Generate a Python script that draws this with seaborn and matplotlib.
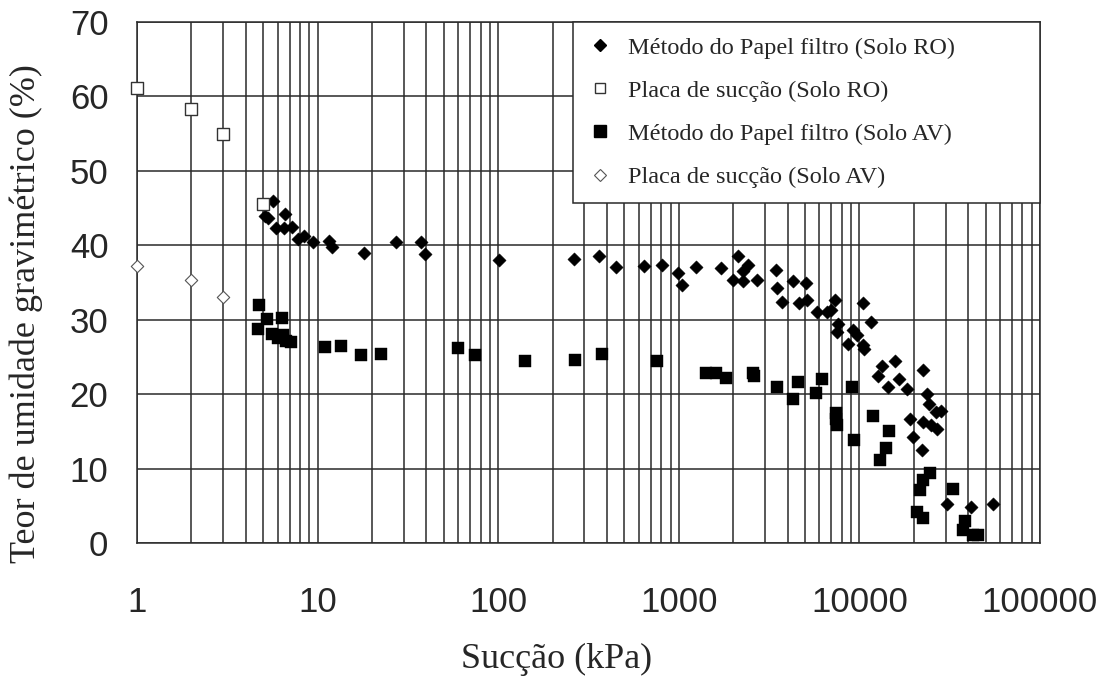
import matplotlib
matplotlib.use("Agg")
import numpy as np
import pandas as pd
import seaborn as sns
import matplotlib.pyplot as plt
from matplotlib.ticker import FixedLocator, LogLocator, NullFormatter
from matplotlib.lines import Line2D

# ---------------- data ----------------
ro_papel_x = [5.68, 5.11, 5.3, 6.60, 5.86, 6.51, 7.19, 7.76, 8.41, 9.47, 11.6, 11.97,
              18.1, 27.2, 37.2, 39.3, 101, 263, 361, 447, 638, 803, 993, 1045, 1245,
              1706, 2136, 2428, 2277, 2003, 2277, 2698, 3452, 3513, 4309, 5063, 3706,
              4633, 5105, 5848, 6640, 7325, 6990, 7640, 7485, 9250, 9660, 8670, 10500,
              10600, 10420, 11540, 13390, 15730, 12740, 14460, 16640, 18290, 22600,
              23600, 24400, 26500, 28300, 19060, 22400, 24800, 27000, 19720, 22100,
              30700, 41300, 54700]
ro_papel_y = [45.9, 44.0, 43.6, 44.2, 42.3, 42.3, 42.5, 40.9, 41.2, 40.5, 40.6, 39.8,
              38.9, 40.5, 40.5, 38.8, 38.0, 38.1, 38.6, 37.1, 37.2, 37.4, 36.3, 34.7, 37.1,
              36.9, 38.6, 37.4, 36.6, 35.4, 35.2, 35.4, 36.7, 34.2, 35.2, 34.9, 32.4,
              32.2, 32.6, 31.0, 31.0, 32.6, 31.3, 29.4, 28.3, 28.6, 27.9, 26.8, 26.6,
              26.1, 32.2, 29.7, 23.8, 24.5, 22.5, 21.0, 22.0, 20.7, 23.2,
              20.0, 18.7, 17.6, 17.8, 16.7, 16.3, 15.8, 15.3, 14.2, 12.5,
              5.2, 4.9, 5.3]

ro_placa_x = [1, 2, 3, 5]
ro_placa_y = [61.1, 58.3, 55.0, 45.5]

av_papel_x = [4.72, 5.22, 6.33, 4.70, 5.57, 6.06, 6.45, 6.68, 7.12, 11.0, 13.4, 17.4,
              22.4, 60.1, 74.3, 140.7, 266, 374, 760, 1415, 1608, 1825, 2563, 2600,
              3513, 4309, 4580, 5750, 6240, 7380, 7540, 7460, 9120, 9350, 11900, 14500,
              14100, 12950, 24600, 22400, 21700, 33100, 20750, 22600, 38400, 37650,
              45600, 42800]
av_papel_y = [32.0, 30.1, 30.2, 28.8, 28.1, 27.6, 28.0, 27.2, 27.0, 26.3, 26.5, 25.3,
              25.4, 26.2, 25.3, 24.5, 24.6, 25.4, 24.5, 22.9, 22.9, 22.2, 22.8, 22.4,
              21.0, 19.3, 21.6, 20.2, 22.1, 17.4, 15.8, 16.6, 21.0, 13.9, 17.1, 15.0,
              12.8, 11.2, 9.4, 8.5, 7.1, 7.3, 4.2, 3.3, 3.0, 1.7,
              1.1, 1.1]

av_placa_x = [1, 2, 3]
av_placa_y = [37.2, 35.4, 33.1]

series_labels = ["Método do Papel filtro (Solo RO)",
                 "Placa de sucção (Solo RO)",
                 "Método do Papel filtro (Solo AV)",
                 "Placa de sucção (Solo AV)"]

x_ticks = [1, 10, 100, 1000, 10000, 100000]
x_tick_labels = ["1", "10", "100", "1000", "10000", "100000"]
y_ticks = [0, 10, 20, 30, 40, 50, 60, 70]
y_tick_labels = [str(v) for v in y_ticks]

x_label = "Sucção (kPa)"
y_label = "Teor de umidade gravimétrico (%)"

# ---------------- style ----------------
sns.set_style("white")
plt.rcParams["font.family"] = ["Liberation Serif", "DejaVu Serif"]

W, H = 1109, 677
fig = plt.figure(figsize=(W / 100, H / 100), dpi=100)
ax = fig.add_axes([137 / W, 1 - 543 / H, 903 / W, 521 / H])

grid_c = "#2a2a2a"

df_ro_papel = pd.DataFrame({"x": ro_papel_x, "y": ro_papel_y})
df_ro_placa = pd.DataFrame({"x": ro_placa_x, "y": ro_placa_y})
df_av_papel = pd.DataFrame({"x": av_papel_x, "y": av_papel_y})
df_av_placa = pd.DataFrame({"x": av_placa_x, "y": av_placa_y})

sns.scatterplot(data=df_av_papel, x="x", y="y", marker="s", s=81, color="black",
                edgecolor="black", linewidth=0.3, ax=ax, zorder=3, clip_on=False)
sns.scatterplot(data=df_ro_papel, x="x", y="y", marker="D", s=46, color="black",
                edgecolor="black", linewidth=0.3, ax=ax, zorder=4, clip_on=False)
sns.scatterplot(data=df_ro_placa, x="x", y="y", marker="s", s=70, color="white",
                edgecolor="#333333", linewidth=1.0, ax=ax, zorder=4, clip_on=False)
sns.scatterplot(data=df_av_placa, x="x", y="y", marker="D", s=40, color="white",
                edgecolor="#555555", linewidth=0.8, ax=ax, zorder=4, clip_on=False)

ax.set_xscale("log")
ax.set_xlim(1, 100000)
ax.set_ylim(0, 70)

ax.xaxis.set_major_locator(FixedLocator(x_ticks))
ax.set_xticklabels(x_tick_labels)
ax.xaxis.set_minor_locator(LogLocator(base=10, subs=np.arange(2, 10), numticks=20))
ax.xaxis.set_minor_formatter(NullFormatter())
ax.yaxis.set_major_locator(FixedLocator(y_ticks))
ax.set_yticklabels(y_tick_labels)

ax.grid(True, which="major", axis="both", color=grid_c, linewidth=1.1)
ax.grid(True, which="minor", axis="x", color=grid_c, linewidth=1.1)
ax.set_axisbelow(True)

for sp in ax.spines.values():
    sp.set_color(grid_c)
    sp.set_linewidth(1.1)

ax.tick_params(axis="x", which="major", direction="out", length=8.6, width=1.1,
               color=grid_c, pad=22, labelsize=25)
ax.tick_params(axis="y", which="major", direction="out", length=8.6, width=1.1,
               color=grid_c, pad=12, labelsize=25)
ax.tick_params(axis="x", which="minor", length=0)
for lab in ax.get_xticklabels() + ax.get_yticklabels():
    lab.set_fontfamily(["Liberation Sans", "DejaVu Sans"])

ax.set_xlabel(x_label, fontsize=26)
ax.set_ylabel(y_label, fontsize=26)
ax.xaxis.set_label_coords(0.465, -0.192)
ax.yaxis.set_label_coords(-0.104, 0.4405)

handles = [
    Line2D([], [], linestyle="none", marker="D", markersize=6.5, markerfacecolor="black",
           markeredgecolor="black"),
    Line2D([], [], linestyle="none", marker="s", markersize=7.5, markerfacecolor="white",
           markeredgecolor="#333333", markeredgewidth=1.0),
    Line2D([], [], linestyle="none", marker="s", markersize=8, markerfacecolor="black",
           markeredgecolor="black"),
    Line2D([], [], linestyle="none", marker="D", markersize=6.5, markerfacecolor="white",
           markeredgecolor="#555555", markeredgewidth=0.8),
]
x0 = (573 - 137) / 903
leg = ax.legend(handles, series_labels, loc="upper left",
                bbox_to_anchor=(x0, 0, 1 - x0, 1.0), mode="expand",
                borderaxespad=0, fontsize=17.5, frameon=True, fancybox=False,
                framealpha=1, edgecolor=grid_c, borderpad=0.6, handlelength=1.0,
                handletextpad=0.65, labelspacing=0.87)
leg.get_frame().set_linewidth(1.1)
leg.set_zorder(10)

fig.savefig("out.png", dpi=100)
